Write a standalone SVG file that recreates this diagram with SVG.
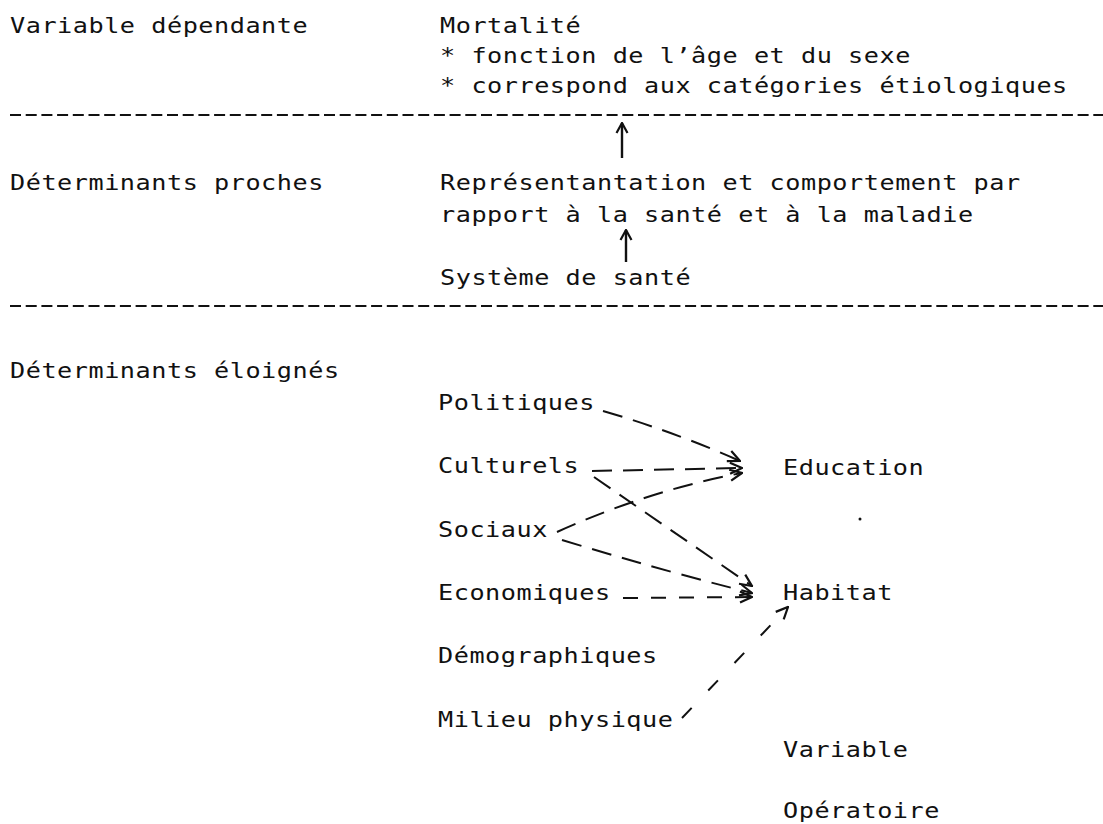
<svg xmlns="http://www.w3.org/2000/svg" width="1103" height="824" viewBox="0 0 1103 824">
<defs>
<style>
text{font-family:"DejaVu Sans Mono","Liberation Mono",monospace;font-size:21px;letter-spacing:0.44px;fill:#111;}
.sep{stroke:#111;stroke-width:2;stroke-dasharray:11 4.7;fill:none;}
.up{stroke:#111;stroke-width:2.4;fill:none;marker-end:url(#uh);}
.arr{stroke:#111;stroke-width:2;fill:none;marker-end:url(#ah);}
.d1{stroke-dasharray:20 11;}
.d2{stroke-dasharray:15 13;}
.d3{stroke-dasharray:14 24;}
</style>
<marker id="ah" viewBox="0 0 14 14" refX="13" refY="7" markerWidth="14" markerHeight="14" markerUnits="userSpaceOnUse" orient="auto">
<path d="M1,1.5 L13,7 L1,12.5" fill="none" stroke="#111" stroke-width="2.2"/>
</marker>
<marker id="uh" viewBox="0 0 14 14" refX="13" refY="7" markerWidth="14" markerHeight="14" markerUnits="userSpaceOnUse" orient="auto">
<path d="M3,1.5 L13,7 L3,12.5" fill="none" stroke="#111" stroke-width="2.2"/>
</marker>
</defs>
<rect width="1103" height="824" fill="#fff"/>

<g id="dependante">
<text transform="translate(10,33) scale(1.2,1)">Variable dépendante</text>
</g>
<g id="mortalite">
<text transform="translate(440,33) scale(1.2,1)">Mortalité</text>
<text transform="translate(440,63) scale(1.2,1)">* fonction de l’âge et du sexe</text>
<text transform="translate(440,93) scale(1.2,1)">* correspond aux catégories étiologiques</text>
</g>
<g id="proches">
<text transform="translate(10,190) scale(1.2,1)">Déterminants proches</text>
</g>
<g id="representation">
<text transform="translate(440,190) scale(1.2,1)">Représentantation et comportement par</text>
<text transform="translate(440,222) scale(1.2,1)">rapport à la santé et à la maladie</text>
</g>
<g id="systeme">
<text transform="translate(440,285) scale(1.2,1)">Système de santé</text>
</g>
<g id="eloignes">
<text transform="translate(10,378) scale(1.2,1)">Déterminants éloignés</text>
</g>
<g id="politiques"><text transform="translate(438,410) scale(1.2,1)">Politiques</text></g>
<g id="culturels"><text transform="translate(438,473) scale(1.2,1)">Culturels</text></g>
<g id="sociaux"><text transform="translate(438,537) scale(1.2,1)">Sociaux</text></g>
<g id="economiques"><text transform="translate(438,600) scale(1.2,1)">Economiques</text></g>
<g id="demographiques"><text transform="translate(438,663) scale(1.2,1)">Démographiques</text></g>
<g id="milieu"><text transform="translate(438,727) scale(1.2,1)">Milieu physique</text></g>
<g id="education"><text transform="translate(783,475) scale(1.2,1)">Education</text></g>
<g id="habitat"><text transform="translate(783,600) scale(1.2,1)">Habitat</text></g>
<g id="operatoire">
<text transform="translate(783,757) scale(1.2,1)">Variable</text>
<text transform="translate(783,818) scale(1.2,1)">Opératoire</text>
</g>

<g id="separators">
<line class="sep" x1="10" y1="115" x2="1103" y2="115"/>
<line class="sep" x1="10" y1="306" x2="1103" y2="306"/>
</g>

<g id="connectors">
<line class="up" x1="622" y1="158" x2="622" y2="123"/>
<line class="up" x1="626" y1="262" x2="626" y2="230"/>
<path class="arr d1" d="M603,411 Q675,432 740,461"/>
<path class="arr d1" d="M592,471 L742,468"/>
<path class="arr d1" d="M557,532 Q650,490 742,473"/>
<path class="arr d1" d="M594,477 L752,586"/>
<path class="arr d1" d="M562,540 Q660,570 752,593"/>
<path class="arr d2" d="M623,598 L752,597"/>
<path class="arr d3" d="M682,718 L788,607"/>
</g>
<circle cx="860" cy="519" r="1.5" fill="#111"/>
</svg>
